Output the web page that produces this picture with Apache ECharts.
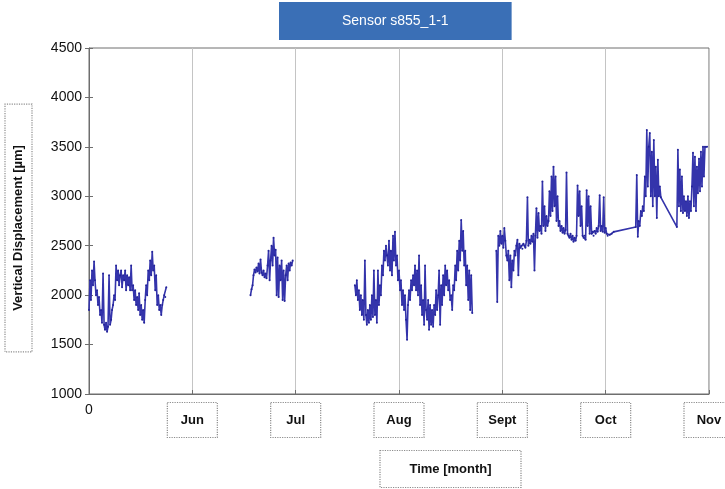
<!DOCTYPE html>
<html>
<head>
<meta charset="utf-8">
<script src="https://cdn.jsdelivr.net/npm/echarts@6/dist/echarts.min.js"></script>
<style>
  html, body { margin: 0; padding: 0; background: #fff; }
  #chart { width: 725px; height: 489px; }
</style>
</head>
<body>
<div id="chart"></div>
<script>
// x axis in months from the start of the record, Jun = 1 ... Nov = 6
var monthLabels = ['0', 'Jun', 'Jul', 'Aug', 'Sept', 'Oct', 'Nov'];

// end of May
var mayT = [0.000,0.010,0.019,0.029,0.039,0.049,0.058,0.068,0.078,0.087,
  0.097,0.107,0.117,0.126,0.136,0.146,0.155,0.165,0.175,0.184,
  0.194,0.204,0.214,0.223,0.233,0.243,0.252,0.262,0.272,0.282,
  0.291,0.301,0.311,0.320,0.330,0.340,0.350,0.359,0.369,0.379,
  0.388,0.398,0.408,0.417,0.427,0.437,0.447,0.456,0.466,0.476,
  0.485,0.495,0.505,0.515,0.524,0.534,0.544,0.553,0.563,0.573,
  0.583,0.592,0.602,0.612,0.621,0.631,0.641,0.650,0.660,0.670,
  0.680,0.689,0.699,0.709,0.718,0.728,0.738,0.748];
var mayV = [1850,2150,1950,2250,2100,2340,2150,2000,2050,1900,
  1980,1800,1850,1720,2220,1700,1650,1720,1630,1680,
  2200,1700,1750,1850,1900,2000,1950,2300,2150,2250,
  2100,2200,2250,2080,2200,2150,2250,2050,2200,2100,
  2180,2050,2300,2050,2100,1950,2050,1900,1980,1850,
  2020,1800,1900,1750,1850,1720,1950,2100,2000,2250,
  2150,2350,2200,2440,2250,2300,2050,2200,1900,2000,
  1850,1900,1800,1900,1950,2000,1980,2080];

// late June
var junT = [1.563,1.573,1.583,1.592,1.602,1.612,1.621,1.631,1.641,1.650,
  1.660,1.670,1.680,1.689,1.699,1.709,1.718,1.728,1.738,1.748,
  1.757,1.767,1.777,1.786,1.796,1.806,1.816,1.825,1.835,1.845,
  1.854,1.864,1.874,1.883,1.893,1.903,1.913,1.922,1.932,1.942,
  1.951,1.961,1.971];
var junV = [2000,2060,2100,2200,2260,2230,2280,2240,2320,2220,
  2360,2230,2200,2250,2180,2220,2170,2300,2450,2150,
  2350,2500,2300,2580,2400,2460,2000,2380,1980,2300,
  2150,2350,1950,2250,1940,2200,2300,2150,2320,2250,
  2330,2300,2350];

// late July to late August
var augT = [2.573,2.583,2.592,2.602,2.612,2.621,2.631,2.641,2.650,2.660,
  2.670,2.680,2.689,2.699,2.709,2.718,2.728,2.738,2.748,2.757,
  2.767,2.777,2.786,2.796,2.806,2.816,2.825,2.835,2.845,2.854,
  2.864,2.874,2.883,2.893,2.903,2.913,2.922,2.932,2.942,2.951,
  2.961,2.971,2.981,2.990,3.000,3.010,3.019,3.029,3.039,3.049,
  3.058,3.068,3.078,3.087,3.097,3.107,3.117,3.126,3.136,3.146,
  3.155,3.165,3.175,3.184,3.194,3.204,3.214,3.223,3.233,3.243,
  3.252,3.262,3.272,3.282,3.291,3.301,3.311,3.320,3.330,3.340,
  3.350,3.359,3.369,3.379,3.388,3.398,3.408,3.417,3.427,3.437,
  3.447,3.456,3.466,3.476,3.485,3.495,3.505,3.515,3.524,3.534,
  3.544,3.553,3.563,3.573,3.583,3.592,3.602,3.612,3.621,3.631,
  3.641,3.650,3.660,3.670,3.680,3.689,3.699,3.709];
var augV = [2100,2000,2150,1950,2050,1850,2000,1800,1950,1750,
  2350,1800,1700,1850,1720,1900,1750,2000,1780,2250,
  1800,1950,1720,2250,1900,2100,2000,2300,2200,2450,
  2350,2500,2400,2300,2550,2250,2450,2200,2600,2350,
  2640,2300,2400,2150,2250,2050,2150,1900,2050,1850,
  2000,1750,1550,1900,2050,1950,2150,2050,2200,2100,
  2300,2050,2250,2000,2400,1900,2100,1800,1950,1700,
  2300,1850,1750,1950,1650,1900,1700,1850,1680,1900,
  1800,2050,1850,2000,2250,1700,2100,1900,2200,2000,
  2300,2100,2250,2050,2150,1950,2000,1850,2100,2050,
  2300,2150,2450,2250,2550,2350,2760,2450,2650,2300,
  2450,2100,2300,1950,2250,1850,2200,1820];

// September to November
var autumnT = [3.942,3.951,3.961,3.971,3.981,3.990,4.000,4.010,4.019,4.029,
  4.039,4.049,4.058,4.068,4.078,4.087,4.097,4.107,4.117,4.126,
  4.136,4.146,4.155,4.165,4.175,4.184,4.194,4.204,4.214,4.223,
  4.233,4.243,4.252,4.262,4.272,4.282,4.291,4.301,4.311,4.320,
  4.330,4.340,4.350,4.359,4.369,4.379,4.388,4.398,4.408,4.417,
  4.427,4.437,4.447,4.456,4.466,4.476,4.485,4.495,4.505,4.515,
  4.524,4.534,4.544,4.553,4.563,4.573,4.583,4.592,4.602,4.612,
  4.621,4.631,4.641,4.650,4.660,4.670,4.680,4.689,4.699,4.709,
  4.718,4.728,4.738,4.748,4.757,4.767,4.777,4.786,4.796,4.806,
  4.816,4.825,4.835,4.845,4.854,4.864,4.874,4.883,4.893,4.903,
  4.913,4.922,4.932,4.942,4.951,4.961,4.971,4.981,4.990,5.000,
  5.010,5.019,
  5.039,5.058,5.078,
  5.291,5.301,5.311,5.320,5.330,5.340,5.350,5.359,5.369,5.379,
  5.388,5.398,5.408,5.417,5.427,5.437,5.447,5.456,5.466,5.476,
  5.485,5.495,5.505,5.515,5.524,5.534,
  5.689,5.699,5.709,5.718,5.728,5.738,5.748,5.757,5.767,5.777,
  5.786,5.796,5.806,5.816,5.825,5.835,5.845,5.854,5.864,5.874,
  5.883,5.893,5.903,5.913,5.922,5.932,5.942,5.951,5.961,
  5.981];
var autumnV = [2450,1930,2600,2500,2650,2520,2600,2480,2680,2550,
  2400,2350,2450,2150,2400,2080,2350,2250,2450,2400,
  2500,2560,2200,2520,2480,2500,2470,2520,2500,2480,
  2550,2990,2500,2560,2520,2600,2540,2620,2250,2600,
  2880,2580,2830,2650,2700,2620,3150,2700,2900,2650,
  2800,2700,2750,3050,2800,3200,2850,3300,2900,3200,
  2750,3000,2700,2750,2650,2700,2630,2680,2620,2660,
  3240,2620,2600,2580,2620,2560,2600,2540,2580,2550,
  2600,3110,2800,3050,2700,2900,2600,2580,2600,2560,
  3060,2700,3000,2620,2900,2620,2640,2600,2650,2620,
  2680,2640,2700,3010,2650,2700,2640,2990,2630,2680,
  2620,2600,
  2610,2620,2640,
  2690,3215,2590,2750,2700,2850,2800,2900,2850,3200,
  3000,3670,3100,3500,3640,3000,3450,2900,3570,3000,
  3300,2780,3370,3000,3100,2990,
  2690,3470,2900,3270,2850,3200,2830,3000,2850,2950,
  2800,3000,2780,2950,2850,3100,3440,2900,3400,2850,
  3300,3030,3380,3050,3450,3100,3500,3200,3500,
  3500];

function pairs(t, v) {
    return t.map((x, i) => [x, v[i]]);
}

function sensorSeries(t, v) {
    return {
        type: 'line',
        data: pairs(t, v),
        symbol: 'circle',
        symbolSize: 2,
        showSymbol: true,
        itemStyle: { color: '#24249a' },
        lineStyle: { color: '#3434ab', width: 1.6 },
        animation: false
    };
}

const chart = echarts.init(document.getElementById('chart'));

var boxBorder = '#8c8c8c';
var axisGray = '#6e6e6e';

var option = {
    title: [{
        text: 'Sensor s855_1-1',
        left: 279,
        top: 2,
        backgroundColor: '#3a6fb6',
        padding: [12, 63, 12, 63],
        textStyle: { color: '#fff', fontSize: 14, fontWeight: 'normal', fontFamily: 'Liberation Sans' }
    }, {
        // x axis title, sitting off-centre under the plot as in the figure
        text: '{b|Time [month]}',
        left: 380,
        top: 462,
        padding: 0,
        textStyle: {
            rich: {
                b: {
                    fontFamily: 'Liberation Sans', fontWeight: 'bold', fontSize: 13, color: '#111',
                    borderColor: boxBorder, borderWidth: 1.2, borderType: 'dotted',
                    width: 85, align: 'center', lineHeight: 14,
                    padding: [12, 28, 12, 28]
                }
            }
        }
    }],
    grid: {
        left: 89, right: 16, top: 48, bottom: 95,
        outerBoundsMode: 'none',
        show: true, borderColor: axisGray, borderWidth: 1
    },
    xAxis: [{
        type: 'value',
        min: 0,
        max: 6,
        interval: 1,
        axisLine: { lineStyle: { color: axisGray } },
        axisTick: { inside: true, length: 4, lineStyle: { color: axisGray } },
        splitLine: { show: true, lineStyle: { color: '#c4c4c4', width: 1 } },
        axisLabel: {
            margin: 19,
            showMinLabel: true,
            showMaxLabel: true,
            formatter: function (v) {
                return v === 0 ? '' : '{m|' + monthLabels[v] + '}';
            },
            rich: {
                m: {
                    fontFamily: 'Liberation Sans', fontWeight: 'bold', fontSize: 13, color: '#111',
                    width: 36, align: 'center', lineHeight: 14,
                    borderColor: boxBorder, borderWidth: 1.2, borderType: 'dotted',
                    padding: [11, 7, 11, 7]
                }
            }
        }
    }, {
        // carries only the "0" at the origin, which sits higher than the boxed months
        type: 'value',
        position: 'bottom',
        min: 0,
        max: 6,
        interval: 1,
        axisLine: { show: false },
        axisTick: { show: false },
        splitLine: { show: false },
        axisLabel: {
            margin: 9,
            showMinLabel: true,
            fontFamily: 'Liberation Sans', fontSize: 14, color: '#111',
            formatter: function (v) { return v === 0 ? monthLabels[0] : ''; }
        }
    }],
    yAxis: [{
        type: 'value',
        min: 1000,
        max: 4500,
        interval: 500,
        // the empty trailing piece nudges the boxed name a little below the axis middle
        name: '{b|Vertical Displacement [µm]}{s|}',
        nameLocation: 'middle',
        nameRotate: 90,
        nameGap: 57,
        nameTextStyle: {
            rich: {
                b: {
                    fontFamily: 'Liberation Sans', fontWeight: 'bold', fontSize: 13, color: '#111',
                    borderColor: boxBorder, borderWidth: 1.2, borderType: 'dotted',
                    padding: [7, 41, 7, 41]
                },
                s: { width: 14 }
            }
        },
        axisLine: { show: true, lineStyle: { color: axisGray } },
        axisTick: { show: true, inside: true, length: 4, lineStyle: { color: axisGray } },
        splitLine: { show: false },
        axisLabel: {
            fontFamily: 'Liberation Sans', fontSize: 14, color: '#111', margin: 7,
            formatter: function (v) { return String(v); }
        }
    }, {
        type: 'value',
        position: 'right',
        min: 1000,
        max: 4500,
        interval: 500,
        axisLine: { show: false },
        axisTick: { show: true, inside: true, length: 4, lineStyle: { color: axisGray } },
        splitLine: { show: false },
        axisLabel: { show: false }
    }],
    series: [
        sensorSeries(mayT, mayV),
        sensorSeries(junT, junV),
        sensorSeries(augT, augV),
        sensorSeries(autumnT, autumnV)
    ]
};

option && chart.setOption(option);
</script>
</body>
</html>
